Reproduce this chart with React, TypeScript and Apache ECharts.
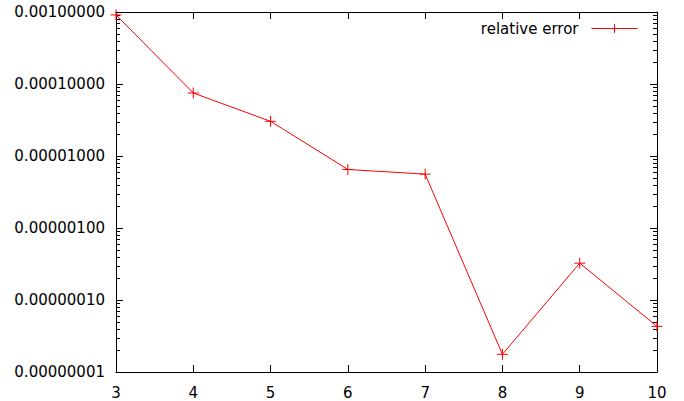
import React, { useEffect, useRef } from "react";
import * as echarts from "echarts";

const xValues = [3, 4, 5, 6, 7, 8, 9, 10];
const relativeError = [9.1e-4, 7.5e-5, 3.03e-5, 6.5e-6, 5.6e-6, 1.76e-8, 3.25e-7, 4.3e-8];
const seriesName = "relative error";
const yMin = 1e-8;
const yMax = 1e-3;
const minorMantissas = [2, 3, 4, 5, 6, 7, 8, 9];
const minorDecades = [1e-8, 1e-7, 1e-6, 1e-5, 1e-4];

const FONT = "DejaVu Sans";

export default function App() {
  const ref = useRef<HTMLDivElement>(null);
  useEffect(() => {
    if (!ref.current) return;
    const chart = echarts.init(ref.current, null, { renderer: "svg" });
    const minorTicks: number[][] = [];
    minorDecades.forEach((d) => minorMantissas.forEach((m) => minorTicks.push([3, m * d])));
    const plus = "path://M0,5L10,5M5,0L5,10";
    chart.setOption({
      animation: false,
      grid: { left: 116, top: 12, right: 27, bottom: 29, containLabel: false },
      legend: {
        data: [seriesName],
        right: 41,
        top: 16,
        align: "right",
        itemWidth: 46,
        itemHeight: 11,
        itemGap: 0,
        lineStyle: { width: 1, color: "#ff0000" },
        itemStyle: { borderWidth: 1, borderColor: "#ff0000", color: "#ff0000" },
        textStyle: { fontFamily: FONT, fontSize: 15, color: "#000", padding: [0, 8, 0, 0] },
      },
      xAxis: [
        {
          type: "value",
          min: 3,
          max: 10,
          interval: 1,
          position: "bottom",
          axisLine: { lineStyle: { color: "#000", width: 1 } },
          axisTick: { inside: true, length: 7, lineStyle: { color: "#000" } },
          axisLabel: { fontFamily: FONT, fontSize: 15, color: "#000", margin: 13 },
          splitLine: { show: false },
        },
        {
          type: "value",
          min: 3,
          max: 10,
          interval: 1,
          position: "top",
          axisLine: { lineStyle: { color: "#000", width: 1 } },
          axisTick: { inside: true, length: 7, lineStyle: { color: "#000" } },
          axisLabel: { show: false },
          splitLine: { show: false },
        },
      ],
      yAxis: [
        {
          type: "log",
          logBase: 10,
          min: yMin,
          max: yMax,
          position: "left",
          axisLine: { show: true, lineStyle: { color: "#000", width: 1 } },
          axisTick: { show: true, inside: true, length: 7, lineStyle: { color: "#000" } },
          axisLabel: {
            fontFamily: FONT,
            fontSize: 15,
            color: "#000",
            margin: 11,
            formatter: (v: number) => v.toFixed(8),
          },
          splitLine: { show: false },
        },
        {
          type: "log",
          logBase: 10,
          min: yMin,
          max: yMax,
          position: "right",
          axisLine: { show: true, lineStyle: { color: "#000", width: 1 } },
          axisTick: { show: true, inside: true, length: 7, lineStyle: { color: "#000" } },
          axisLabel: { show: false },
          splitLine: { show: false },
        },
      ],
      series: [
        {
          name: seriesName,
          type: "line",
          data: xValues.map((x, i) => [x, relativeError[i]]),
          lineStyle: { color: "#ff0000", width: 1 },
          itemStyle: { color: "#ff0000", borderColor: "#ff0000", borderWidth: 1 },
          symbol: plus,
          symbolSize: 11,
          showSymbol: true,
          emphasis: { disabled: true },
          clip: false,
        },
        {
          name: "minor",
          type: "custom",
          silent: true,
          data: minorTicks,
          encode: { x: 0, y: 1 },
          renderItem: (params: any, api: any) => {
            const p = api.coord([api.value(0), api.value(1)]);
            const cs = params.coordSys;
            const y = Math.round(p[1]) + 0.5;
            return {
              type: "group",
              children: [
                { type: "line", shape: { x1: cs.x, y1: y, x2: cs.x + 4, y2: y }, style: { stroke: "#000", lineWidth: 1 } },
                {
                  type: "line",
                  shape: { x1: cs.x + cs.width - 4, y1: y, x2: cs.x + cs.width, y2: y },
                  style: { stroke: "#000", lineWidth: 1 },
                },
              ],
            };
          },
        },
      ],
    });
    return () => chart.dispose();
  }, []);
  return <div ref={ref} style={{ position: "fixed", left: 0, top: 0, width: 684, height: 401, background: "#fff" }} />;
}
